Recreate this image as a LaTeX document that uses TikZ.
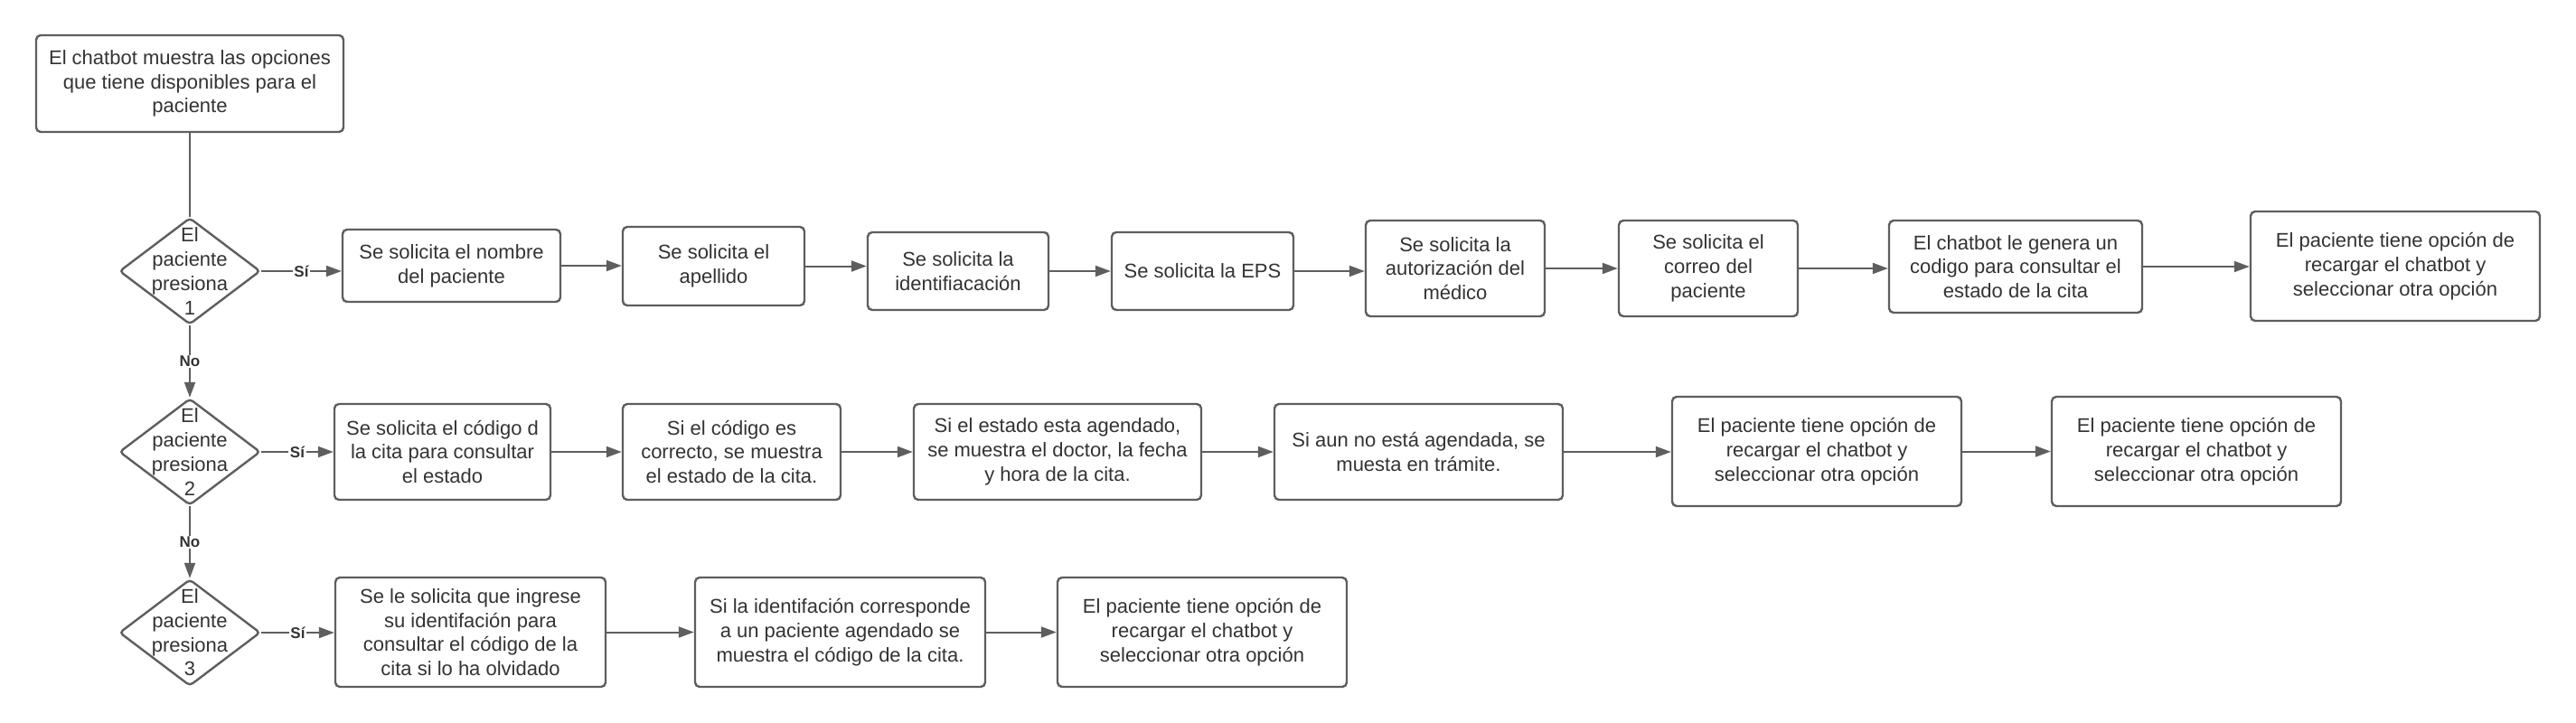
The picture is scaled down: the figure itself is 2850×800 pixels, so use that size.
\documentclass[tikz,border=0pt]{standalone}
\usepackage{fontspec}
\setmainfont{Liberation Sans}
\usetikzlibrary{shapes.geometric,arrows.meta}
\definecolor{linec}{HTML}{5E5E5E}
\definecolor{textc}{HTML}{333333}
\newcommand{\mainsz}{\fontsize{22}{26.7}\selectfont}
\newcommand{\labsz}{\fontsize{17}{20}\selectfont}
\tikzset{
  box/.style={draw=linec, line width=2.4pt, rounded corners=5pt, fill=white, text=textc,
    align=center, inner sep=0pt, font=\mainsz},
  dec/.style={draw=linec, diamond, line width=2.4pt, rounded corners=4pt, fill=white,
    minimum width=156pt, minimum height=118pt, inner sep=0pt, text=textc, font=\mainsz},
  conn/.style={draw=linec, line width=2pt},
  arr/.style={conn, -{Triangle[length=17pt,width=12pt]}},
  lab/.style={fill=white, font=\labsz\bfseries, text=textc, inner sep=1.5pt},
}
\begin{document}
\begin{tikzpicture}[x=1pt,y=-1pt]
\useasboundingbox (0,0) rectangle (2850,800);
\fill[white] (0,0) rectangle (2850,800);

% start
\node[box, minimum width=340pt, minimum height=107pt] (top) at (210,92.5)
  {El chatbot muestra las opciones\\que tiene disponibles para el\\paciente};

% decisions
\node[dec, label={[align=center,text=textc,font=\mainsz]center:El\\paciente\\presiona\\1}] (d1) at (210,300) {};
\node[dec, label={[align=center,text=textc,font=\mainsz]center:El\\paciente\\presiona\\2}] (d2) at (210,500) {};
\node[dec, label={[align=center,text=textc,font=\mainsz]center:El\\paciente\\presiona\\3}] (d3) at (210,700) {};

% row 1
\node[box, minimum width=241pt, minimum height=80pt] (b11) at (499.5,294) {Se solicita el nombre\\del paciente};
\node[box, minimum width=201pt, minimum height=87pt] (b12) at (789.5,294.5) {Se solicita el\\apellido};
\node[box, minimum width=200pt, minimum height=86pt] (b13) at (1060,300) {Se solicita la\\identifiacación};
\node[box, minimum width=201pt, minimum height=86pt] (b14) at (1330.5,300) {Se solicita la EPS};
\node[box, minimum width=198pt, minimum height=106pt] (b15) at (1610,297) {Se solicita la\\autorización del\\médico};
\node[box, minimum width=198pt, minimum height=106pt] (b16) at (1890,297) {Se solicita el\\correo del\\paciente};
\node[box, minimum width=280pt, minimum height=102pt] (b17) at (2230,295) {El chatbot le genera un\\codigo para consultar el\\estado de la cita};
\node[box, minimum width=320pt, minimum height=121pt] (b18) at (2650,294.5) {El paciente tiene opción de\\recargar el chatbot y\\seleccionar otra opción};

% row 2
\node[box, minimum width=239pt, minimum height=106pt] (b21) at (489.5,500) {Se solicita el código d\\la cita para consultar\\el estado};
\node[box, minimum width=241pt, minimum height=106pt] (b22) at (809.5,500) {Si el código es\\correcto, se muestra\\el estado de la cita.};
\node[box, minimum width=318pt, minimum height=106pt] (b23) at (1170,500) {Si el estado esta agendado,\\se muestra el doctor, la fecha\\y hora de la cita.};
\node[box, minimum width=319pt, minimum height=106pt] (b24) at (1569.5,500) {Si aun no está agendada, se\\muesta en trámite.};
\node[box, minimum width=320pt, minimum height=121pt] (b25) at (2010,499.5) {El paciente tiene opción de\\recargar el chatbot y\\seleccionar otra opción};
\node[box, minimum width=320pt, minimum height=121pt] (b26) at (2430,499.5) {El paciente tiene opción de\\recargar el chatbot y\\seleccionar otra opción};

% row 3
\node[box, minimum width=299pt, minimum height=121pt] (b31) at (520.5,699.5) {Se le solicita que ingrese\\su identifación para\\consultar el código de la\\cita si lo ha olvidado};
\node[box, minimum width=321pt, minimum height=121pt] (b32) at (929.5,699.5) {Si la identifación corresponde\\a un paciente agendado se\\muestra el código de la cita.};
\node[box, minimum width=320pt, minimum height=121pt] (b33) at (1330,699.5) {El paciente tiene opción de\\recargar el chatbot y\\seleccionar otra opción};

% connectors
\draw[conn] (top.south) -- (d1.north);
\draw[arr] (d1.south) -- node[lab]{No} (d2.north);
\draw[arr] (d2.south) -- node[lab]{No} (d3.north);

\draw[arr] (d1.east) -- node[lab]{Sí} (d1.east -| b11.west);
\draw[arr] (d2.east) -- node[lab]{Sí} (d2.east -| b21.west);
\draw[arr] (d3.east) -- node[lab]{Sí} (d3.east -| b31.west);

\foreach \a/\b in {b11/b12, b12/b13, b13/b14, b14/b15, b15/b16, b16/b17, b17/b18,
                   b21/b22, b22/b23, b23/b24, b24/b25, b25/b26,
                   b31/b32, b32/b33}
  \draw[arr] (\a.east) -- (\a.east -| \b.west);
\end{tikzpicture}
\end{document}
